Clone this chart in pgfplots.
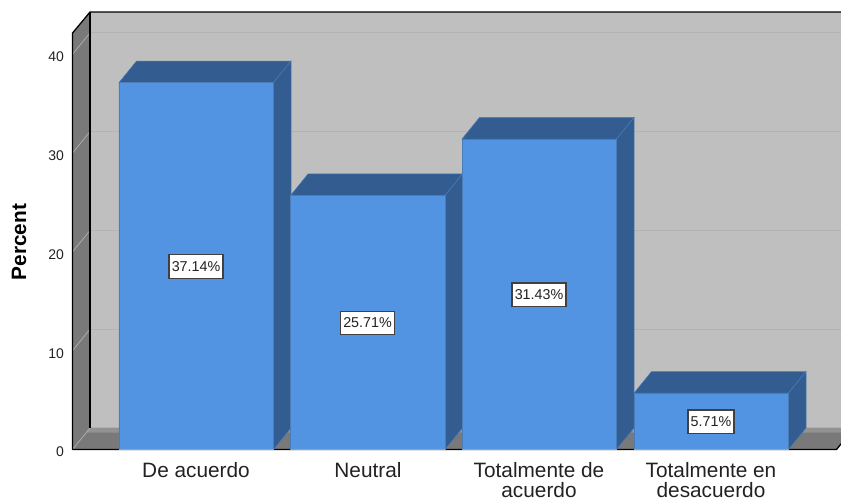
\documentclass[border=0pt]{standalone}
\usepackage{fontspec}
\setmainfont{Liberation Sans}
\usepackage{pgfplots}
\usepackage{pgfplotstable}
\pgfplotsset{compat=1.18}
\definecolor{wallback}{HTML}{BFBFBF}
\definecolor{wallside}{HTML}{797979}
\definecolor{floorback}{HTML}{929292}
\definecolor{gridback}{HTML}{B3B3B3}
\definecolor{gridside}{HTML}{ABABAB}
\definecolor{barfront}{HTML}{5294E2}
\definecolor{bardepth}{HTML}{335C91}
\definecolor{baredge}{HTML}{4A7DB8}
\definecolor{labeltext}{HTML}{222222}
\pgfplotstableread{
x     pct   label
196.5 37.14 37.14\%
368.0 25.71 25.71\%
539.5 31.43 31.43\%
711.5 5.71  5.71\%
}\responses
\begin{document}
\begin{tikzpicture}
\path[use as bounding box] (-70pt,-44.56pt) rectangle (771pt,454.44pt);
\begin{axis}[
  at={(0pt,0pt)}, anchor=south west,
  scale only axis, width=771pt, height=454.44pt,
  xmin=70, xmax=841, ymin=-0.5, ymax=45.5,
  axis line style={draw=none},
  major tick length=0pt,
  no markers,
  xtick={196,368,539,711},
  xticklabels={De acuerdo,Neutral,{Totalmente de\\acuerdo},{Totalmente en\\desacuerdo}},
  xticklabel style={align=center,font=\fontsize{20.8}{20}\selectfont,text=labeltext,yshift=-4pt},
  ytick={0,10,20,30,40},
  yticklabel style={font=\fontsize{14}{15}\selectfont,text=labeltext,xshift=-2.5pt,yshift=-2.5pt},
  /pgf/number format/assume math mode=true,
  ylabel={Percent},
  every axis y label/.style={at={(axis cs:19,21.0)},rotate=90,anchor=center,
    font=\fontsize{20.8}{22}\bfseries},
]
% back wall, side wall and floor
\addplot[fill=wallback,draw=none] coordinates {(90,2.18)(841,2.18)(841,44.28)(90,44.28)} -- cycle;
\addplot[fill=wallside,draw=none] coordinates {(72.5,0)(90,2.18)(90,44.28)(72.5,42.15)} -- cycle;
\addplot[fill=wallside,draw=none] coordinates {(72.5,0)(90,2.18)(854,2.18)(836.5,0)} -- cycle;
\addplot[fill=floorback,draw=none] coordinates {(90,2.18)(854,2.18)(850,1.7)(86,1.7)} -- cycle;

% gridlines on the back wall and across the side wall
\addplot[gridback,line width=1.3pt] coordinates {(90,12.18)(841,12.18)};
\addplot[gridback,line width=1.3pt] coordinates {(90,22.18)(841,22.18)};
\addplot[gridback,line width=1.3pt] coordinates {(90,32.18)(841,32.18)};
\addplot[gridback,line width=1.3pt] coordinates {(90,42.18)(841,42.18)};
\addplot[gridside,line width=0.8pt] coordinates {(72.5,0)(90,2.18)};
\addplot[gridside,line width=0.8pt] coordinates {(72.5,10)(90,12.18)};
\addplot[gridside,line width=0.8pt] coordinates {(72.5,20)(90,22.18)};
\addplot[gridside,line width=0.8pt] coordinates {(72.5,30)(90,32.18)};
\addplot[gridside,line width=0.8pt] coordinates {(72.5,40)(90,42.18)};

% frame of the box
\addplot[black,line width=1.3pt] coordinates {(72.5,0)(72.5,42.15)(90,44.28)(841,44.28)};
\addplot[black,line width=1.3pt] coordinates {(90,44.28)(90,2.18)};
\addplot[black,line width=1.3pt] coordinates {(72.5,0)(836.5,0)(854,2.18)};

% top and side faces of the bars
\addplot[fill=bardepth,draw=baredge,line width=0.5pt] coordinates {(119,37.14)(136.5,39.32)(291,39.32)(273.5,37.14)} -- cycle;
\addplot[fill=bardepth,draw=baredge,line width=0.5pt] coordinates {(273.5,0)(291,2.18)(291,39.32)(273.5,37.14)} -- cycle;
\addplot[fill=bardepth,draw=baredge,line width=0.5pt] coordinates {(290.5,25.71)(308,27.89)(462.5,27.89)(445,25.71)} -- cycle;
\addplot[fill=bardepth,draw=baredge,line width=0.5pt] coordinates {(445,0)(462.5,2.18)(462.5,27.89)(445,25.71)} -- cycle;
\addplot[fill=bardepth,draw=baredge,line width=0.5pt] coordinates {(462,31.43)(479.5,33.61)(634,33.61)(616.5,31.43)} -- cycle;
\addplot[fill=bardepth,draw=baredge,line width=0.5pt] coordinates {(616.5,0)(634,2.18)(634,33.61)(616.5,31.43)} -- cycle;
\addplot[fill=bardepth,draw=baredge,line width=0.5pt] coordinates {(634,5.71)(651.5,7.89)(806,7.89)(788.5,5.71)} -- cycle;
\addplot[fill=bardepth,draw=baredge,line width=0.5pt] coordinates {(788.5,0)(806,2.18)(806,7.89)(788.5,5.71)} -- cycle;

% front faces of the bars
\addplot[ybar,bar width=154.5pt,bar shift=0pt,fill=barfront,draw=baredge,line width=0.5pt]
  table[x=x,y=pct] {
x     pct
196.25 37.14
367.75 25.71
539.25 31.43
711.25 5.71
};
\addplot[gray!75,line width=1pt] coordinates {(119,-0.05)(273.5,-0.05)};
\addplot[gray!75,line width=1pt] coordinates {(290.5,-0.05)(445,-0.05)};
\addplot[gray!75,line width=1pt] coordinates {(462,-0.05)(616.5,-0.05)};
\addplot[gray!75,line width=1pt] coordinates {(634,-0.05)(788.5,-0.05)};

% value labels at mid height of each bar
\addplot[draw=none,
  nodes near coords,
  point meta=explicit symbolic,
  every node near coord/.append style={anchor=center,fill=white,draw=black!75,
    line width=1.3pt,text=labeltext,font=\fontsize{14.3}{16}\selectfont,
    inner xsep=2.8pt,inner ysep=0pt,minimum height=23.5pt,xshift=-0.5pt,yshift=-0.5pt},
] table[x=x,y expr=\thisrow{pct}/2,meta=label] {\responses};
\end{axis}
\end{tikzpicture}
\end{document}
